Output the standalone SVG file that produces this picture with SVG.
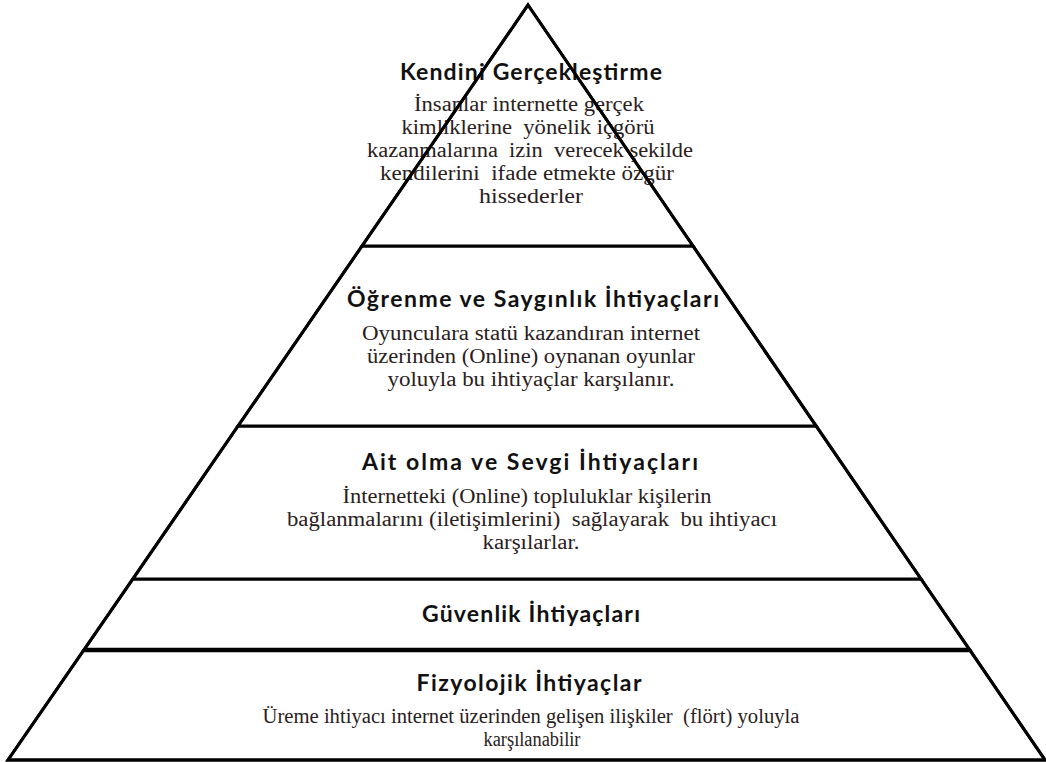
<svg xmlns="http://www.w3.org/2000/svg" width="1046" height="762" viewBox="0 0 1046 762">
<style>
.band{fill:#ffffff;stroke:#000;stroke-width:3;stroke-linejoin:miter}
.title{font-family:Lato,"Open Sans","Liberation Sans",sans-serif;font-weight:700;font-size:23px;fill:#111;text-anchor:middle}
.body{font-family:"Liberation Serif","DejaVu Serif",serif;font-size:20px;fill:#2a2020;text-anchor:middle;white-space:pre}
</style>
<rect x="0" y="0" width="1046" height="762" fill="#ffffff"/>
<g id="level5-fizyolojik">
<polygon class="band" points="84,650 970,650 1045,760 8,760"/>
<text class="title" x="529" y="691" textLength="225" lengthAdjust="spacing">Fizyolojik İhtiyaçlar</text>
<text class="body" x="531" y="723" textLength="537" lengthAdjust="spacingAndGlyphs">Üreme ihtiyacı internet üzerinden gelişen ilişkiler  (flört) yoluyla</text>
<text class="body" x="532" y="746" textLength="97" lengthAdjust="spacingAndGlyphs">karşılanabilir</text>
</g>
<g id="level4-guvenlik">
<polygon class="band" points="133,579 921,579 970,650 84,650"/>
<text class="title" x="531" y="622" textLength="218" lengthAdjust="spacing">Güvenlik İhtiyaçları</text>
</g>
<g id="level3-ait-olma">
<polygon class="band" points="238,426 816,426 921,579 133,579"/>
<text class="title" x="530" y="470" textLength="336" lengthAdjust="spacing">Ait olma ve Sevgi İhtiyaçları</text>
<text class="body" x="527" y="503" textLength="369" lengthAdjust="spacingAndGlyphs">İnternetteki (Online) topluluklar kişilerin</text>
<text class="body" x="532" y="526" textLength="490" lengthAdjust="spacingAndGlyphs">bağlanmalarını (iletişimlerini)  sağlayarak  bu ihtiyacı</text>
<text class="body" x="531" y="549" textLength="97" lengthAdjust="spacingAndGlyphs">karşılarlar.</text>
</g>
<g id="level2-ogrenme">
<polygon class="band" points="362,246 693,246 816,426 238,426"/>
<text class="title" x="533" y="307" textLength="372" lengthAdjust="spacing">Öğrenme ve Saygınlık İhtiyaçları</text>
<text class="body" x="531" y="340" textLength="338" lengthAdjust="spacingAndGlyphs">Oyunculara statü kazandıran internet</text>
<text class="body" x="531" y="363" textLength="328" lengthAdjust="spacingAndGlyphs">üzerinden (Online) oynanan oyunlar</text>
<text class="body" x="531" y="386" textLength="287" lengthAdjust="spacingAndGlyphs">yoluyla bu ihtiyaçlar karşılanır.</text>
</g>
<g id="level1-kendini">
<polygon class="band" points="528,5 693,246 362,246"/>
<text class="title" x="531" y="80" textLength="262" lengthAdjust="spacing">Kendini Gerçekleştirme</text>
<text class="body" x="529" y="111" textLength="230" lengthAdjust="spacingAndGlyphs">İnsanlar internette gerçek</text>
<text class="body" x="528" y="134" textLength="253" lengthAdjust="spacingAndGlyphs">kimliklerine  yönelik içgörü</text>
<text class="body" x="530" y="157" textLength="326" lengthAdjust="spacingAndGlyphs">kazanmalarına  izin  verecek şekilde</text>
<text class="body" x="527" y="180" textLength="294" lengthAdjust="spacingAndGlyphs">kendilerini  ifade etmekte özgür</text>
<text class="body" x="531" y="203" textLength="104" lengthAdjust="spacingAndGlyphs">hissederler</text>
</g>
<g id="connectors">
<line x1="84" y1="650" x2="970" y2="650" stroke="#000" stroke-width="4.5"/>
<polygon points="528,5 1045,760 8,760" fill="none" stroke="#000" stroke-width="3" stroke-linejoin="miter"/>
</g>
</svg>
